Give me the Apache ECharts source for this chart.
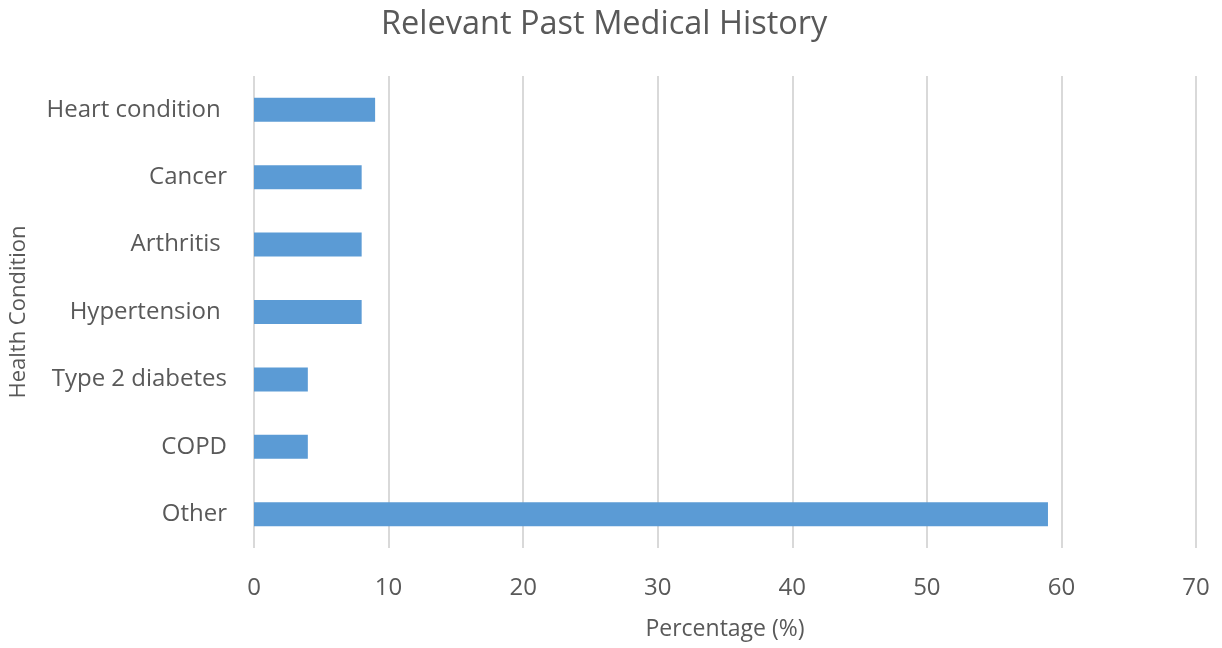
<!DOCTYPE html>
<html>
<head>
<meta charset="utf-8">
<script src="https://cdn.jsdelivr.net/npm/echarts@6/dist/echarts.min.js"></script>
<style>
  html, body { margin: 0; padding: 0; background: #fff; }
  #chart { width: 1222px; height: 648px; }
</style>
</head>
<body>
<div id="chart"></div>
<script>
// Conditions listed bottom-to-top (category axis runs upward)
const conditions = ['Other', 'COPD', 'Type 2 diabetes', 'Hypertension ', 'Arthritis ', 'Cancer', 'Heart condition '];
const percentages = [59, 4, 4, 8, 8, 8, 9];
const xTicks = { min: 0, max: 70, interval: 10 };

const textColor = '#595959';
const font = '"Open Sans", "Noto Sans", sans-serif';

const chart = echarts.init(document.getElementById('chart'), null, { renderer: 'canvas' });
chart.setOption({
  animation: false,
  backgroundColor: '#ffffff',
  title: {
    text: 'Relevant Past Medical History',
    left: 376,
    top: 3,
    textStyle: { color: textColor, fontSize: 32.5, fontWeight: 'normal', fontFamily: font }
  },
  grid: { left: 254, right: 26, top: 76, bottom: 100, containLabel: false },
  xAxis: {
    type: 'value',
    min: xTicks.min,
    max: xTicks.max,
    interval: xTicks.interval,
    name: 'Percentage (%)',
    nameLocation: 'middle',
    nameGap: 70,
    nameTextStyle: { color: textColor, fontSize: 23, fontFamily: font },
    axisLine: { show: false },
    axisTick: { show: false },
    axisLabel: { color: textColor, fontSize: 24, fontFamily: font, margin: 28 },
    splitLine: { show: true, lineStyle: { color: '#d9d9d9', width: 2 } }
  },
  yAxis: {
    type: 'category',
    data: conditions,
    name: 'Health Condition',
    nameLocation: 'middle',
    nameGap: 224,
    nameRotate: 90,
    nameTextStyle: { color: textColor, fontSize: 22, fontFamily: font },
    axisLine: { show: false },
    axisTick: { show: false },
    axisLabel: { color: textColor, fontSize: 24, fontFamily: font, margin: 27 },
    splitLine: { show: false }
  },
  series: [{
    type: 'bar',
    data: percentages,
    barWidth: 24,
    itemStyle: { color: '#5b9bd5' }
  }]
});
</script>
</body>
</html>
